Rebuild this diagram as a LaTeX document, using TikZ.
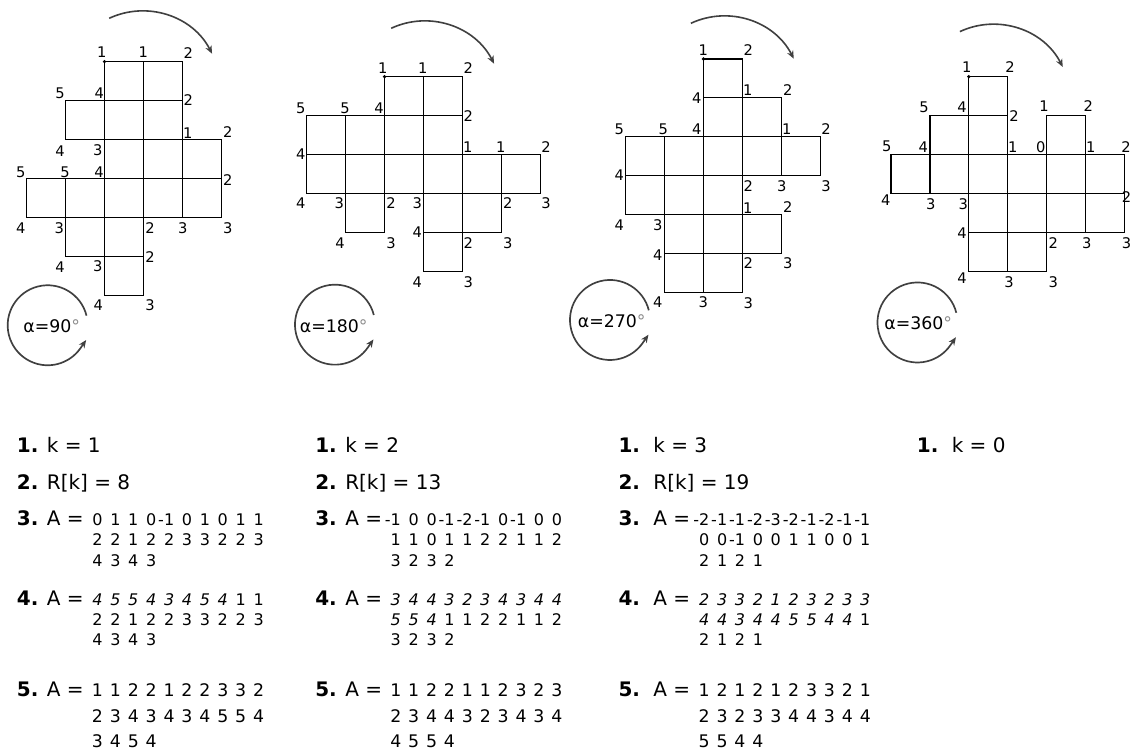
\documentclass[tikz,border=0pt]{standalone}
\usepackage{fontspec}
\setmainfont{DejaVu Sans}
\usetikzlibrary{arrows.meta}
\newcommand{\mn}[1]{\llap{-}#1}
\newcommand{\iv}[1]{\textit{#1}}
\newcommand{\cellsz}{38.9}
\newcommand{\drawcells}[3]{\foreach \cc/\rr in {#3} \draw[cell] ({#1+\cc*\cellsz},{#2+\rr*\cellsz}) rectangle ++(\cellsz,\cellsz);}
\newcommand{\vlabels}[2]{\foreach \xx/\yy/\lab [count=\i] in {#2} \node[vlab] (#1\i) at (\xx,\yy) {\lab};}
\newcommand{\toparrow}[3]{\coordinate (#1) at ({109.2+#2},{18.3+#3}); \draw[rotarrow] (#1) arc[start angle=-115, end angle=-27, radius=78.3];}
\newcommand{\ringarrow}[6]{%
  \coordinate (#1s) at ({#2+38.8},{#3-9.7});
  \draw[ring] (#1s) arc[start angle=-14, end angle=-325, radius=40] -- ++(5.7,-8.2);
  \node[alab] (#1t) at (#4,#5) {α=#6{\color{black!45}°}};}
\newcommand{\seqrow}[5]{\foreach \v [count=\i] in {#5} \node[#4] (#1\i) at ({#2+(\i-1)*17.9},#3) {\v};}
\begin{document}
\begin{tikzpicture}[x=0.75pt,y=-0.75pt,
  cell/.style={draw=black, line width=0.9pt},
  vlab/.style={inner sep=0pt, font=\fontsize{11}{13}\selectfont},
  rotarrow/.style={draw=black!75, line width=1.2pt, -{Stealth[length=6pt,width=5pt]}},
  ring/.style={draw=black!75, line width=1.25pt, -{Stealth[length=6pt,width=5pt]}},
  alab/.style={inner sep=0pt, font=\fontsize{13}{15}\selectfont},
  head/.style={anchor=base west, inner sep=0pt, font=\fontsize{15}{18}\selectfont},
  dig/.style={anchor=base, inner sep=0pt, font=\fontsize{12}{14}\selectfont},
  digv/.style={anchor=base, inner sep=0pt, font=\fontsize{13}{15}\selectfont},
  vdot/.style={fill=black}
]
\clip (0,0) rectangle (1131,752);
\fill[white] (0,0) rectangle (1131,752);

% ---------- panel 1 ----------
\drawcells{26.7}{61.7}{2/0,3/0,1/1,2/1,3/1,2/2,3/2,4/2,0/3,1/3,2/3,3/3,4/3,1/4,2/4,2/5}
\fill[vdot] (104.5,61.7) circle (1.8);
\vlabels{pa}{101.7/52/1,143.3/52/1,188.3/53/2,60/93/5,99.3/93/4,188.3/100.3/2,187.7/133/1,227.7/132.3/2,60/150.7/4,97.7/150/3,20.7/172.3/5,65/172.3/5,99/171.7/4,227.7/180/2,20.7/227.7/4,59.3/227.7/3,150/227.7/2,182.7/227.7/3,227.7/227.7/3,60/266.7/4,97.7/266/3,150/257.3/2,98.3/305/4,150/305/3}
\toparrow{ta}{0}{0}
\ringarrow{ra}{47.7}{325.3}{51.7}{326}{90}

% ---------- panel 2 ----------
\drawcells{306.7}{76.7}{2/0,3/0,0/1,1/1,2/1,3/1,0/2,1/2,2/2,3/2,4/2,5/2,1/3,3/3,4/3,3/4}
\fill[vdot] (384.5,76.7) circle (1.8);
\vlabels{pb}{382.7/68.3/1,422.7/68.3/1,468.3/68.3/2,300.7/108.3/5,345/108.3/5,379/108.3/4,468.3/115.7/2,467.7/146.7/1,500.7/146.7/1,546/146.7/2,300.7/154.3/4,300.7/203.3/4,339.3/203.3/3,391/203.3/2,417.3/203.3/3,507.7/203.3/2,546/203.3/3,340/242.7/4,391/242.7/3,417.3/232.3/4,468.3/242.7/2,507.7/242.7/3,417.3/281.7/4,468.3/281.7/3}
\toparrow{tb}{282}{10}
\ringarrow{rb}{335}{324.7}{333.7}{326.5}{180}

% ---------- panel 3 ----------
\drawcells{625.7}{59}{2/0,2/1,3/1,0/2,1/2,2/2,3/2,4/2,0/3,1/3,2/3,1/4,2/4,3/4,1/5,2/5}
\fill[vdot] (703.5,59) circle (1.8);
\vlabels{pc}{703.3/50/1,748.3/50/2,696.7/97.7/4,747.7/90/1,787.7/90/2,619.3/129/5,663.3/129/5,696.7/129/4,786.7/129/1,826/129/2,619.3/175/4,748.3/185.7/2,781.7/185.7/3,826/185.7/3,747.7/208.3/1,787.7/207.3/2,619.3/225/4,657.7/225/3,657.7/255/4,748.3/263.3/2,787.7/263.3/3,657.7/301.7/4,703.3/301.7/3,748.3/303.3/3}
\toparrow{tc}{581.7}{5}
\ringarrow{rc}{610}{320}{611.7}{321.5}{270}

% ---------- panel 4 ----------
\drawcells{891}{76.7}{2/0,1/1,2/1,4/1,0/2,1/2,2/2,3/2,4/2,5/2,2/3,3/3,4/3,5/3,2/4,3/4}
\fill[vdot] (968.8,76.7) circle (1.8);
\vlabels{pd}{966.7/66.7/1,1010/66.7/2,924/107.3/5,962/107.3/4,1014/115.7/2,1044/106/1,1088.3/106/2,886.7/146.7/5,923.3/146.7/4,1012.7/146.7/1,1040.7/146.7/0,1090.7/146.7/1,1126/146.7/2,885.7/200/4,930.7/204/3,963.3/204/3,1126.5/196.7/2,962/233.3/4,1053.3/242.7/2,1086.7/242.7/3,1126.5/242.7/3,962/277.7/4,1009/281.7/3,1053.3/281.7/3}
\toparrow{td}{850.7}{13.3}
\ringarrow{rd}{917.5}{322.5}{918.3}{322.7}{360}

% ---------- text column 1 ----------
\node[head] (h11) at (16.7,452) {\textbf{1.} k = 1};
\node[head] (h12) at (16.7,489.5) {\textbf{2.} R[k] = 8};
\node[head] (h13) at (16.7,525.5) {\textbf{3.} A =};
\node[head] (h14) at (16.7,605) {\textbf{4.} A =};
\node[head] (h15) at (16.7,696.5) {\textbf{5.} A =};
\seqrow{a3a}{97.5}{525.5}{dig}{0,1,1,0,\mn1,0,1,0,1,1}
\seqrow{a3b}{97.5}{545.5}{dig}{2,2,1,2,2,3,3,2,2,3}
\seqrow{a3c}{97.5}{566}{dig}{4,3,4,3}
\seqrow{a4a}{97.5}{605}{dig}{\iv4,\iv5,\iv5,\iv4,\iv3,\iv4,\iv5,\iv4,1,1}
\seqrow{a4b}{97.5}{625}{dig}{2,2,1,2,2,3,3,2,2,3}
\seqrow{a4c}{97.5}{645.5}{dig}{4,3,4,3}
\seqrow{a5a}{97.5}{696.5}{digv}{1,1,2,2,1,2,2,3,3,2}
\seqrow{a5b}{97.5}{722}{digv}{2,3,4,3,4,3,4,5,5,4}
\seqrow{a5c}{97.5}{747.5}{digv}{3,4,5,4}

% ---------- text column 2 ----------
\node[head] (h21) at (315,452) {\textbf{1.} k = 2};
\node[head] (h22) at (315,489.5) {\textbf{2.} R[k] = 13};
\node[head] (h23) at (315,525.5) {\textbf{3.} A =};
\node[head] (h24) at (315,605) {\textbf{4.} A =};
\node[head] (h25) at (315,696.5) {\textbf{5.} A =};
\seqrow{b3a}{395.8}{525.5}{dig}{\mn1,0,0,\mn1,\mn2,\mn1,0,\mn1,0,0}
\seqrow{b3b}{395.8}{545.5}{dig}{1,1,0,1,1,2,2,1,1,2}
\seqrow{b3c}{395.8}{566}{dig}{3,2,3,2}
\seqrow{b4a}{395.8}{605}{dig}{\iv3,\iv4,\iv4,\iv3,\iv2,\iv3,\iv4,\iv3,\iv4,\iv4}
\seqrow{b4b}{395.8}{625}{dig}{\iv5,\iv5,\iv4,1,1,2,2,1,1,2}
\seqrow{b4c}{395.8}{645.5}{dig}{3,2,3,2}
\seqrow{b5a}{395.8}{696.5}{digv}{1,1,2,2,1,1,2,3,2,3}
\seqrow{b5b}{395.8}{722}{digv}{2,3,4,4,3,2,3,4,3,4}
\seqrow{b5c}{395.8}{747.5}{digv}{4,5,5,4}

% ---------- text column 3 ----------
\node[head] (h31) at (618.3,452) {\textbf{1.}\hspace{10pt}k = 3};
\node[head] (h32) at (618.3,489.5) {\textbf{2.}\hspace{10pt}R[k] = 19};
\node[head] (h33) at (618.3,525.5) {\textbf{3.}\hspace{10pt}A =};
\node[head] (h34) at (618.3,605) {\textbf{4.}\hspace{10pt}A =};
\node[head] (h35) at (618.3,696.5) {\textbf{5.}\hspace{10pt}A =};
\seqrow{c3a}{704.2}{525.5}{dig}{\mn2,\mn1,\mn1,\mn2,\mn3,\mn2,\mn1,\mn2,\mn1,\mn1}
\seqrow{c3b}{704.2}{545.5}{dig}{0,0,\mn1,0,0,1,1,0,0,1}
\seqrow{c3c}{704.2}{566}{dig}{2,1,2,1}
\seqrow{c4a}{704.2}{605}{dig}{\iv2,\iv3,\iv3,\iv2,\iv1,\iv2,\iv3,\iv2,\iv3,\iv3}
\seqrow{c4b}{704.2}{625}{dig}{\iv4,\iv4,\iv3,\iv4,\iv4,\iv5,\iv5,\iv4,\iv4,1}
\seqrow{c4c}{704.2}{645.5}{dig}{2,1,2,1}
\seqrow{c5a}{704.2}{696.5}{digv}{1,2,1,2,1,2,3,3,2,1}
\seqrow{c5b}{704.2}{722}{digv}{2,3,2,3,3,4,4,3,4,4}
\seqrow{c5c}{704.2}{747.5}{digv}{5,5,4,4}

% ---------- text column 4 ----------
\node[head] (h41) at (916.7,452) {\textbf{1.}\hspace{10pt}k = 0};
\end{tikzpicture}
\end{document}
